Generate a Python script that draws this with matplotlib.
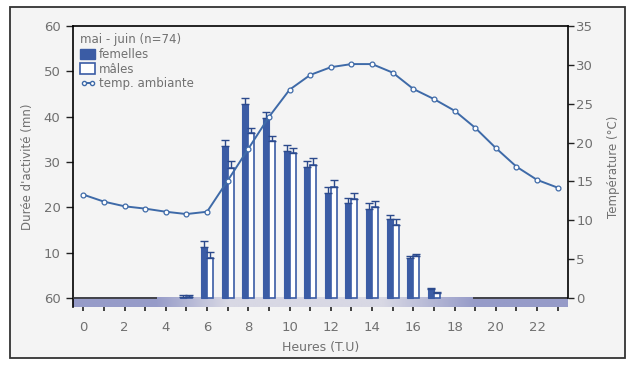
import numpy as np
import matplotlib
matplotlib.use("Agg")
import matplotlib.pyplot as plt
from matplotlib.patches import Patch, Rectangle
from matplotlib.lines import Line2D

# data
hours_bar = [5, 6, 7, 8, 9, 10, 11, 12, 13, 14, 15, 16, 17]
femelles = [0.3, 11.3, 33.6, 42.8, 39.7, 32.4, 28.9, 23.2, 21.0, 19.6, 17.4, 8.8, 2.0]
femelles_err = [0.4, 1.3, 1.3, 1.3, 1.3, 1.4, 1.3, 1.3, 1.0, 1.4, 0.9, 0.5, 0.2]
males = [0.3, 8.8, 28.7, 36.4, 34.7, 32.0, 29.4, 24.5, 21.9, 20.1, 16.1, 9.3, 1.1]
males_err = [0.4, 1.4, 1.5, 1.1, 1.1, 1.1, 1.5, 1.5, 1.3, 1.3, 1.3, 0.4, 0.2]
hours_temp = list(range(24))
temp = [13.3, 12.4, 11.8, 11.5, 11.1, 10.8, 11.1, 15.1, 19.2, 23.3, 26.8, 28.7,
        29.7, 30.1, 30.1, 29.0, 26.9, 25.6, 24.1, 21.9, 19.3, 16.9, 15.2, 14.2]
left_ticks = [0, 10, 20, 30, 40, 50, 60]
left_labels = ['60', '10', '20', '30', '40', '50', '60']
right_ticks = [0, 5, 10, 15, 20, 25, 30, 35]

blue = '#3b5ca5'
dark = '#2c4a8c'
grey = '#707070'
plt.rcParams['font.family'] = ['DejaVu Sans']

fig = plt.figure(figsize=(6.3, 3.65), dpi=100)
fig.patch.set_facecolor('white')
bg = fig.add_axes([0, 0, 1, 1], zorder=-5)
bg.set_axis_off()
bg.set_xlim(0, 630)
bg.set_ylim(365, 0)
bg.add_patch(Rectangle((10, 7), 615, 351, facecolor='#f4f4f4', edgecolor='#333333', lw=1.3))

ax = fig.add_axes([73/630, 1-307/365, 495/630, 281/365])
ax.set_facecolor('none')
ax.set_xlim(-0.5, 23.5)
ax.set_ylim(-9/4.533, 60)

w = 0.29
hb = np.array(hours_bar)
ax.bar(hb - w/2, femelles, w, color=blue, edgecolor=blue, lw=0.8, zorder=3)
ax.bar(hb + w/2, males, w, color='white', edgecolor=blue, lw=1.2, zorder=3)
ax.errorbar(hb - w/2, femelles, yerr=[np.zeros(len(hb)), femelles_err], fmt='none',
            ecolor=dark, elinewidth=1, capsize=3, capthick=1, zorder=4)
ax.errorbar(hb + w/2, males, yerr=[np.zeros(len(hb)), males_err], fmt='none',
            ecolor=dark, elinewidth=1, capsize=3, capthick=1, zorder=4)

# day / night band under the axis
xs = np.linspace(-0.5, 23.5, 400)
darkc = np.array([150, 155, 200]) / 255
lightc = np.array([216, 216, 228]) / 255
f = np.interp(xs, [-0.5, 3.5, 7, 14.5, 19, 23.5], [0, 0, 1, 1, 0, 0])
band = darkc[None, :] * (1 - f[:, None]) + lightc[None, :] * f[:, None]
ax.imshow(band[None, :, :], extent=[-0.5, 23.5, -9/4.533, 0], aspect='auto', zorder=2)
ax.hlines(0, -0.5, 3.55, color='#333333', lw=1.2, zorder=3)
ax.hlines(0, 18.9, 23.5, color='#333333', lw=1.2, zorder=3)

ax.set_xticks(range(0, 24, 2))
ax.set_xticks(range(0, 24), minor=True)
ax.tick_params(axis='x', which='both', direction='out', length=3, width=1.2, colors='#222222',
               labelcolor=grey, labelsize=9.5, pad=7)
ax.set_yticks(left_ticks)
ax.set_yticklabels(left_labels)
ax.tick_params(axis='y', direction='out', length=5, width=1, colors='#222222',
               labelcolor=grey, labelsize=9.5, pad=4)
ax.spines['bottom'].set_visible(False)
ax.spines['right'].set_visible(False)
ax.spines['left'].set_linewidth(1.2)
ax.spines['top'].set_linewidth(1.2)
ax.set_xlabel('Heures (T.U)', color=grey, fontsize=9, labelpad=5)
ax.set_ylabel("Durée d'activité (mn)", color=grey, fontsize=8.5, labelpad=7)

ax2 = ax.twinx()
ax2.set_ylim(-9/7.77, 35)
ax2.plot(hours_temp, temp, color='#3e6aa8', lw=1.4, marker='o', ms=3.5,
         mfc='white', mec='#3e6aa8', mew=0.9, zorder=5)
ax2.set_yticks(right_ticks)
ax2.tick_params(axis='y', direction='out', length=4, width=1, colors='#222222',
                labelcolor=grey, labelsize=9.5, pad=2)
for s in ['left', 'top', 'bottom']:
    ax2.spines[s].set_visible(False)
ax2.spines['right'].set_bounds(0, 35)
ax2.spines['right'].set_linewidth(1.2)
ax2.set_ylabel('Température (°C)', color=grey, fontsize=8.5, labelpad=10)

handles = [Patch(facecolor=blue, edgecolor=blue),
           Patch(facecolor='white', edgecolor=blue, lw=1.2),
           Line2D([], [], color='#3e6aa8', lw=1.4, marker='o', ms=3, mfc='white', mec='#3e6aa8')]
leg = ax2.legend(handles, ['femelles', 'mâles', 'temp. ambiante'], title='mai - juin (n=74)',
                 loc='upper left', bbox_to_anchor=(0.0, 1.0), frameon=False, fontsize=8.5,
                 title_fontsize=8.5, handlelength=1.3, handleheight=1.0, handletextpad=0.3,
                 labelspacing=0.15, borderaxespad=0.2, numpoints=2, labelcolor=grey)
leg.get_title().set_color(grey)
leg._legend_box.align = 'left'

fig.savefig('out.png', dpi=100)
